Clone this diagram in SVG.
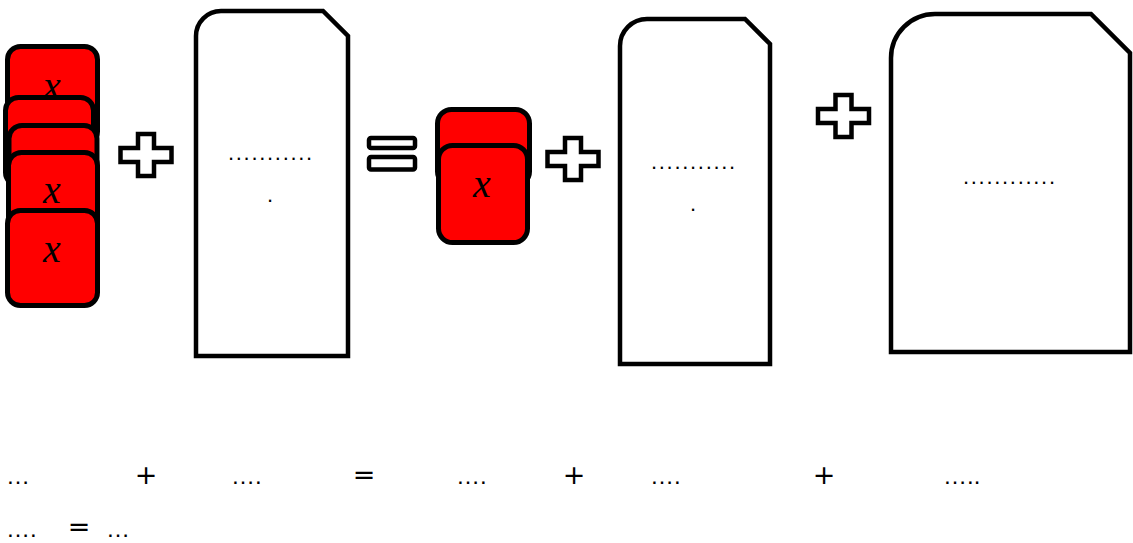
<svg xmlns="http://www.w3.org/2000/svg" width="1133" height="543" viewBox="0 0 1133 543">
  <style>
    .card { fill: #ff0000; stroke: #000; stroke-width: 5; }
    .doc { fill: #fff; stroke: #000; stroke-width: 4.5; stroke-linejoin: miter; }
    .op { fill: #fff; stroke: #000; stroke-width: 4.5; }
    .var { font-family: "Liberation Serif", serif; font-style: italic; font-size: 40px; fill: #000; text-anchor: middle; }
    .dots { font-family: "Liberation Sans", sans-serif; font-size: 22px; letter-spacing: 1.7px; fill: #000; }
    .eq { font-family: "Liberation Sans", sans-serif; font-size: 24px; fill: #000; }
    .sym { font-family: "DejaVu Sans", sans-serif; font-size: 27px; fill: #000; text-anchor: middle; }
  </style>
  <defs>
    <path id="cross" d="M-8,-21 H8 V-7 H25.5 V7 H8 V21 H-8 V7 H-25.5 V-7 H-8 Z"/>
  </defs>

  <!-- stack of x tiles on the left -->
  <g id="tiles-left">
    <rect class="card" x="7.5" y="46.5" width="90" height="98" rx="13"/>
    <text class="var" x="52" y="99">x</text>
    <rect class="card" x="5.5" y="97.5" width="88" height="88" rx="13"/>
    <rect class="card" x="9" y="125.5" width="88" height="60" rx="13"/>
    <rect class="card" x="8.5" y="152.5" width="89" height="98" rx="13"/>
    <text class="var" x="52" y="203">x</text>
    <rect class="card" x="7.5" y="210.5" width="90" height="95" rx="13"/>
    <text class="var" x="52" y="262">x</text>
  </g>

  <g id="plus-1"><use href="#cross" class="op" x="146" y="155"/></g>

  <g id="doc-1">
    <path class="doc" d="M196,356 V36 A25,25 0 0 1 221,11 H323 L348,36 V356 Z"/>
    <text class="dots" x="228" y="160">...........</text>
    <text class="dots" x="267" y="202">.</text>
  </g>

  <g id="equals">
    <rect class="op" x="369" y="138" width="46" height="10" rx="2"/>
    <rect class="op" x="369" y="157" width="46" height="12.5" rx="2"/>
  </g>

  <!-- pair of x tiles in the middle -->
  <g id="tiles-mid">
    <rect class="card" x="437.5" y="109.5" width="92" height="76" rx="14"/>
    <rect class="card" x="438.5" y="145.5" width="89" height="97" rx="14"/>
    <text class="var" x="482" y="197">x</text>
  </g>

  <g id="plus-2"><use href="#cross" class="op" x="573" y="159"/></g>

  <g id="doc-2">
    <path class="doc" d="M620,364 V46 A27,27 0 0 1 647,19 H745 L770,44 V364 Z"/>
    <text class="dots" x="651" y="169">...........</text>
    <text class="dots" x="690" y="211">.</text>
  </g>

  <g id="plus-3"><use href="#cross" class="op" x="843.5" y="116"/></g>

  <g id="doc-3">
    <path class="doc" d="M891,352 V58 A44,44 0 0 1 935,14 H1091 L1130,53 V352 Z"/>
    <text class="dots" x="963" y="184">............</text>
  </g>

  <!-- equation line below the figures -->
  <g id="equation">
    <text class="eq" x="6" y="484">…</text>
    <text class="sym" x="146" y="484">+</text>
    <text class="eq" x="231" y="484">….</text>
    <text class="sym" x="364" y="484">=</text>
    <text class="eq" x="456" y="484">….</text>
    <text class="sym" x="574" y="484">+</text>
    <text class="eq" x="650" y="484">….</text>
    <text class="sym" x="824" y="484">+</text>
    <text class="eq" x="943" y="484">…..</text>
    <text class="eq" x="6" y="537">….</text>
    <text class="sym" x="79" y="536">=</text>
    <text class="eq" x="106" y="537">…</text>
  </g>
</svg>
